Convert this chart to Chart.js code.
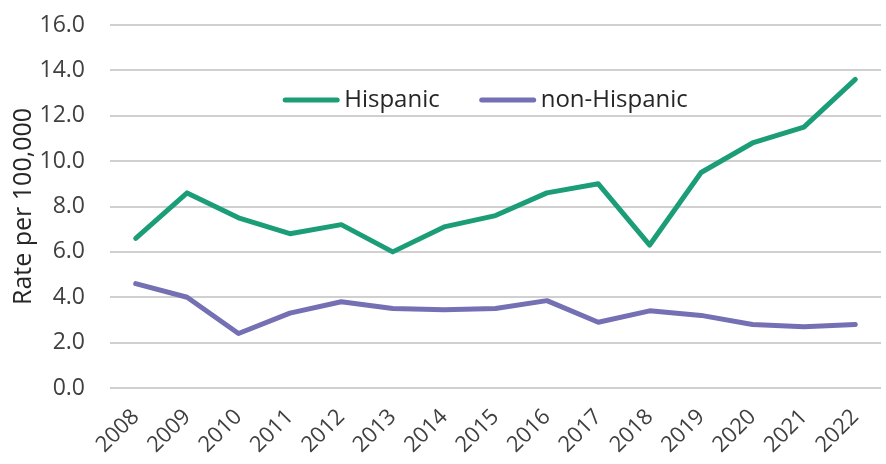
<!DOCTYPE html>
<html>
<head>
<meta charset="utf-8">
<script src="https://cdn.jsdelivr.net/npm/chart.js@4/dist/chart.umd.min.js"></script>
<style>
html,body{margin:0;padding:0;background:#fff;}
#wrap{width:886px;height:464px;}
</style>
</head>
<body>
<div id="wrap"><canvas id="c" width="886" height="464"></canvas></div>
<script>
const years = ['2008','2009','2010','2011','2012','2013','2014','2015','2016','2017','2018','2019','2020','2021','2022'];
const hispanic = [6.6, 8.6, 7.5, 6.8, 7.2, 6.0, 7.1, 7.6, 8.6, 9.0, 6.3, 9.5, 10.8, 11.5, 13.6];
const nonHispanic = [4.6, 4.0, 2.4, 3.3, 3.8, 3.5, 3.45, 3.5, 3.85, 2.9, 3.4, 3.2, 2.8, 2.7, 2.8];
const seriesNames = ['Hispanic', 'non-Hispanic'];
const yTitle = 'Rate per 100,000';

const FONT = "'Open Sans', 'Noto Sans', sans-serif";

const legendPlugin = {
  id: 'inLegend',
  afterDatasetsDraw(chart) {
    const ctx = chart.ctx;
    const ca = chart.chartArea;
    ctx.save();
    ctx.font = "24px " + FONT;
    const lineLen = 56, gapLT = 5, gapItems = 40;
    const items = chart.data.datasets.map(d => ({label: d.label, color: d.borderColor, w: ctx.measureText(d.label).width}));
    let total = 0;
    items.forEach((it, i) => { total += lineLen + gapLT + it.w + (i < items.length - 1 ? gapItems : 0); });
    let x = (ca.left + ca.right) / 2 - 10 - total / 2;
    const y = 100;
    items.forEach(it => {
      ctx.strokeStyle = it.color;
      ctx.lineWidth = 5;
      ctx.lineCap = 'round';
      ctx.beginPath();
      ctx.moveTo(x + 2, y);
      ctx.lineTo(x + lineLen - 2, y);
      ctx.stroke();
      ctx.fillStyle = '#262626';
      ctx.textBaseline = 'middle';
      ctx.textAlign = 'left';
      ctx.fillText(it.label, x + lineLen + gapLT, y);
      x += lineLen + gapLT + it.w + gapItems;
    });
    ctx.restore();
  }
};

new Chart(document.getElementById('c'), {
  type: 'line',
  data: {
    labels: years,
    datasets: [
      {label: seriesNames[0], data: hispanic, borderColor: '#1b9e77', backgroundColor: '#1b9e77'},
      {label: seriesNames[1], data: nonHispanic, borderColor: '#7570b3', backgroundColor: '#7570b3'}
    ]
  },
  options: {
    responsive: false,
    animation: false,
    devicePixelRatio: 1,
    layout: {padding: {top: 25, right: 5, left: 0, bottom: 0}},
    elements: {
      line: {borderWidth: 5, tension: 0, borderCapStyle: 'round', borderJoinStyle: 'round'},
      point: {radius: 0, hoverRadius: 0}
    },
    plugins: {legend: {display: false}, tooltip: {enabled: false}},
    scales: {
      x: {
        offset: true,
        grid: {display: false, drawTicks: false},
        border: {display: false},
        ticks: {font: {family: FONT, size: 22}, color: '#404040', maxRotation: 45, minRotation: 45, padding: 16},
        afterFit(s) { s.height = 76; s.paddingLeft = 0; s.paddingRight = 0; s.paddingTop = 0; s.paddingBottom = 0; }
      },
      y: {
        min: 0, max: 16,
        grid: {color: '#d0d0d0', lineWidth: 2, drawTicks: false},
        border: {display: false},
        ticks: {stepSize: 2, font: {family: FONT, size: 23}, color: '#404040', padding: 25,
          callback: v => Number(v).toFixed(1)},
        title: {display: true, text: yTitle, font: {family: FONT, size: 25}, color: '#262626', padding: {top: 9, bottom: 0}},
        afterFit(s) { s.width = 110; s.paddingTop = 0; s.paddingBottom = 0; s.paddingLeft = 0; s.paddingRight = 0; }
      }
    }
  },
  plugins: [legendPlugin]
});
</script>
</body>
</html>
